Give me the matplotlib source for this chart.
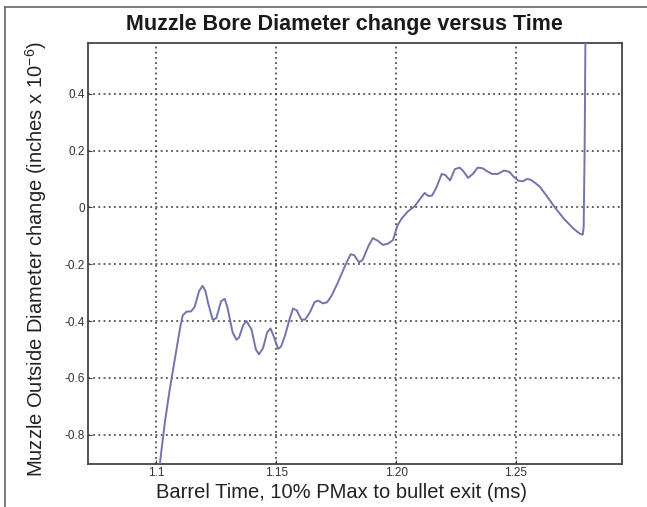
import matplotlib
matplotlib.use("Agg")
import matplotlib.pyplot as plt
from matplotlib.lines import Line2D
import numpy as np

plt.rcParams['font.family'] = ['Liberation Sans', 'DejaVu Sans']
plt.rcParams['mathtext.fontset'] = 'custom'
plt.rcParams['mathtext.rm'] = 'Liberation Sans'
plt.rcParams['mathtext.it'] = 'Liberation Sans:italic'

# barrel time (ms) and outside diameter change (inches x 1e-6)
time_ms = [1.1008, 1.1015, 1.1035, 1.1056, 1.1084, 1.1100, 1.1110, 1.1126, 1.1145,
           1.1160, 1.1178, 1.1193, 1.1205, 1.1216, 1.1235, 1.1250, 1.1270, 1.1285,
           1.1296, 1.1318, 1.1334, 1.1345, 1.1362, 1.1376, 1.1397, 1.1415, 1.1428,
           1.1445, 1.1462, 1.1476, 1.1490, 1.1508, 1.1520, 1.1537, 1.1555, 1.1570,
           1.1585, 1.1605, 1.1620, 1.1640, 1.1660, 1.1675, 1.1695, 1.1712, 1.1730,
           1.1755, 1.1790, 1.1810, 1.1825, 1.1845, 1.1860, 1.1885, 1.1903, 1.1925,
           1.1945, 1.1965, 1.1987, 1.2005, 1.2022, 1.2049, 1.2077, 1.2100, 1.2119,
           1.2135, 1.2150, 1.2168, 1.2190, 1.2205, 1.2225, 1.2245, 1.2265, 1.2280,
           1.2300, 1.2320, 1.2340, 1.2360, 1.2378, 1.2400, 1.2424, 1.2450, 1.2473,
           1.2490, 1.2510, 1.2528, 1.2545, 1.2560, 1.2580, 1.2600, 1.2630, 1.2660,
           1.2700, 1.2740, 1.2765, 1.2778, 1.2782, 1.2786, 1.2792]
diam_change = [-0.95, -0.90, -0.76, -0.64, -0.50, -0.42, -0.38, -0.367, -0.366,
               -0.350, -0.295, -0.276, -0.295, -0.337, -0.395, -0.390, -0.330, -0.322,
               -0.350, -0.440, -0.466, -0.458, -0.415, -0.400, -0.430, -0.500, -0.517,
               -0.495, -0.440, -0.426, -0.455, -0.498, -0.490, -0.450, -0.395, -0.356,
               -0.362, -0.395, -0.395, -0.370, -0.333, -0.328, -0.338, -0.334, -0.312,
               -0.268, -0.200, -0.165, -0.168, -0.193, -0.185, -0.135, -0.108, -0.118,
               -0.132, -0.128, -0.115, -0.065, -0.040, -0.014, 0.004, 0.030, 0.051,
               0.040, 0.042, 0.070, 0.118, 0.114, 0.095, 0.135, 0.140, 0.128,
               0.104, 0.118, 0.140, 0.138, 0.128, 0.118, 0.118, 0.130, 0.125,
               0.108, 0.094, 0.092, 0.100, 0.098, 0.086, 0.072, 0.038, 0.002,
               -0.040, -0.075, -0.092, -0.096, -0.070, 0.20, 0.90]

x_ticks = [1.10, 1.15, 1.20, 1.25]
x_tick_labels = ["1.1", "1.15", "1.20", "1.25"]
y_ticks = [0.4, 0.2, 0.0, -0.2, -0.4, -0.6, -0.8]
y_tick_labels = ["0.4", "0.2", "0", "-0.2", "-0.4", "-0.6", "-0.8"]

fig = plt.figure(figsize=(6.47, 5.07), dpi=100)
ax = fig.add_axes([0.136, 0.085, 0.8254, 0.8308])

ax.plot(time_ms, diam_change, color="#7474ac", lw=1.4, zorder=3,
        solid_joinstyle="round", solid_capstyle="round")

ax.set_xlim(1.0715, 1.2942)
ax.set_ylim(-0.903, 0.58)
ax.set_xticks(x_ticks)
ax.set_xticklabels(x_tick_labels)
ax.set_yticks(y_ticks)
ax.set_yticklabels(y_tick_labels)
ax.tick_params(direction="in", length=3, width=0.8, labelsize=8.5,
               labelcolor="#333333", color="#444444", pad=2)

ax.grid(True, color="#333333", linestyle=(0, (1.2, 2.2)), linewidth=1.1)
for s in ax.spines.values():
    s.set_color("#444444")
    s.set_linewidth(1.3)

ax.set_title("Muzzle Bore Diameter change versus Time", fontsize=15.5,
             fontweight="bold", color="#1a1a1a", pad=9, x=0.48)
ax.set_xlabel("Barrel Time, 10% PMax to bullet exit (ms)", fontsize=14.5,
              color="#222222")
ax.xaxis.set_label_coords(0.474, -0.045, transform=ax.transAxes)
ax.xaxis.label.set_va("top")
ax.set_ylabel("Muzzle Outside Diameter change (inches x 10$^{-6}$)", fontsize=14.5,
              color="#222222")
ax.yaxis.set_label_coords(-0.073, 0.486, transform=ax.transAxes)

# frame of the cropped page around the chart
fig.add_artist(Line2D([5 / 647, 5 / 647], [0, 1 - 7 / 507], color="#666666", lw=1.2))
fig.add_artist(Line2D([5 / 647, 1], [1 - 7 / 507, 1 - 7 / 507], color="#666666", lw=1.2))

plt.savefig("out.png", dpi=100)
